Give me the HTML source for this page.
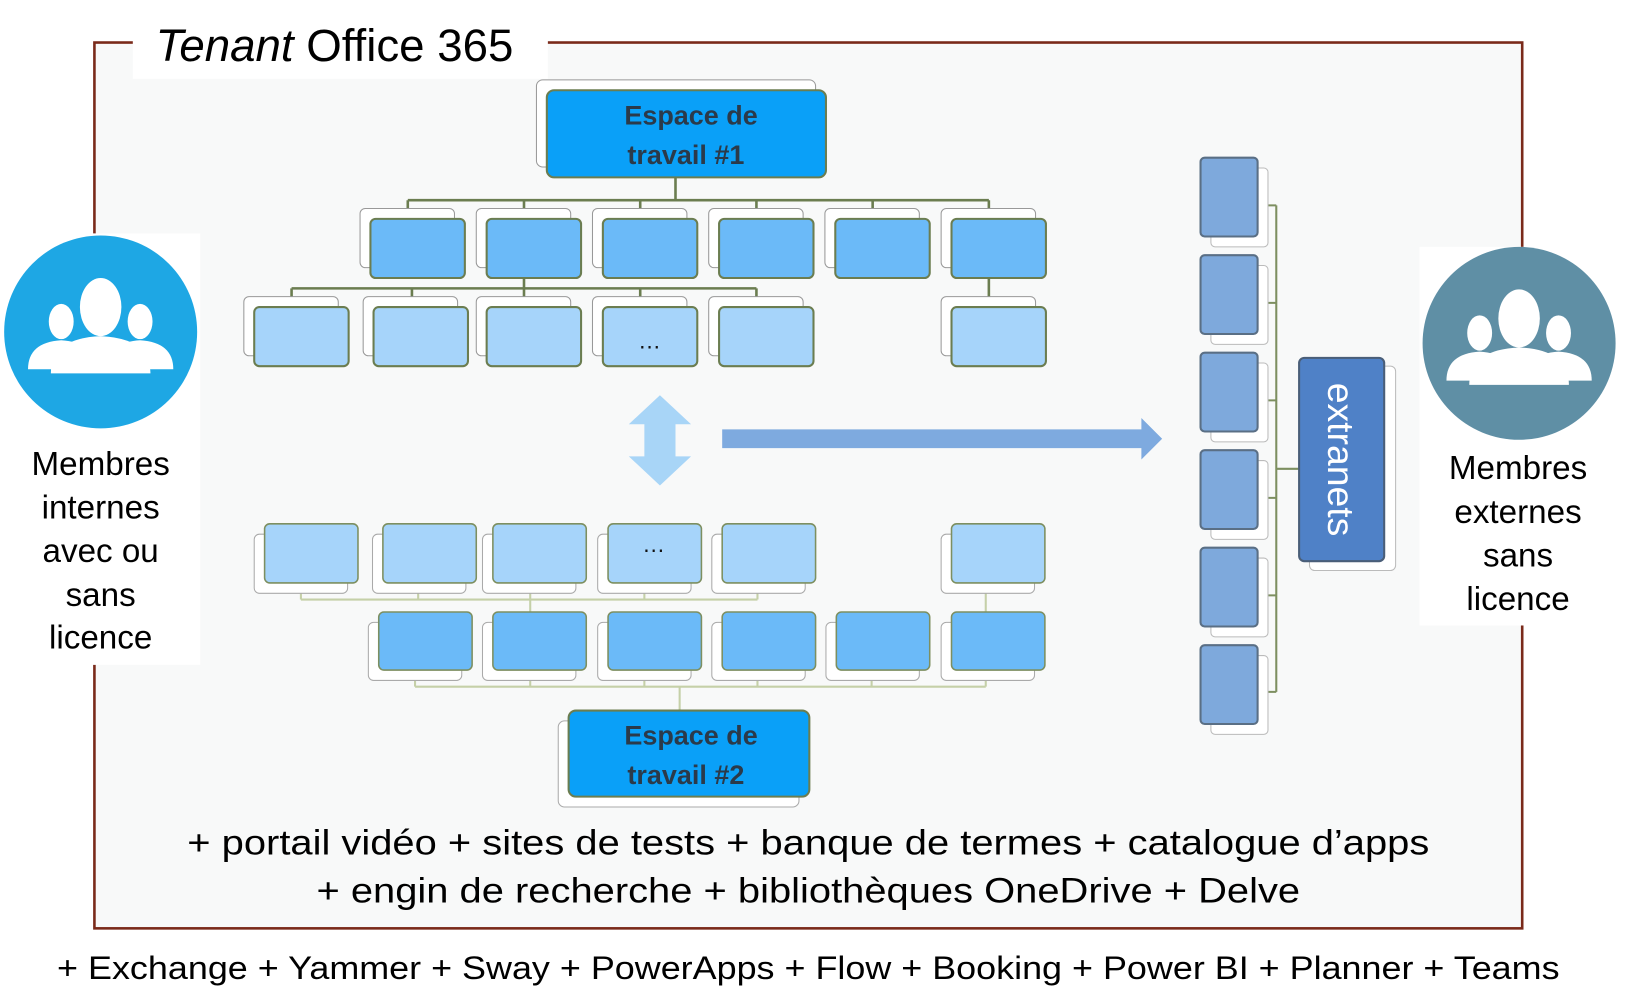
<!DOCTYPE html>
<html><head><meta charset="utf-8"><style>html,body{margin:0;padding:0;background:#fff;width:1627px;height:1002px;overflow:hidden}svg{display:block}text{font-family:"Liberation Sans",Arial,sans-serif}</style></head><body>
<svg width="1627" height="1002" viewBox="0 0 1568 966" preserveAspectRatio="none" xmlns="http://www.w3.org/2000/svg">
<defs>
<g id="ppl" fill="#fff">
<ellipse cx="-38" cy="-8" rx="12" ry="17"/><path d="M-70 38 Q-70 12 -38 10 Q-6 12 -6 38Z"/>
<ellipse cx="38" cy="-8" rx="12" ry="17"/><path d="M6 38 Q6 12 38 10 Q70 12 70 38Z"/>
<ellipse cx="0" cy="-22" rx="20" ry="28" stroke="#1ea7e4" stroke-width="0"/><path d="M-48 42 Q-48 8 0 6 Q48 8 48 42Z"/>
</g>
</defs>
<rect x="91" y="41" width="1376" height="854" fill="#f8f9f9" stroke="#7a2a1a" stroke-width="2.5"/>
<rect x="128" y="14" width="400" height="62" fill="#fff"/>
<text x="150" y="59" font-size="44"><tspan font-style="italic">Tenant</tspan> Office 365</text>
<rect x="0" y="225" width="193" height="416" fill="#fff"/>
<circle cx="97" cy="320" r="93" fill="#1ea7e4"/>
<use href="#ppl" transform="translate(97,318)"/>
<g font-size="32" text-anchor="middle"><text x="97" y="458">Membres</text><text x="97" y="500">internes</text><text x="97" y="542">avec ou</text><text x="97" y="584">sans</text><text x="97" y="625">licence</text></g>
<rect x="1368" y="238" width="192" height="365" fill="#fff"/>
<circle cx="1464" cy="331" r="93" fill="#5f8fa5"/>
<use href="#ppl" transform="translate(1464,329)"/>
<g font-size="32" text-anchor="middle"><text x="1463" y="462">Membres</text><text x="1463" y="504">externes</text><text x="1463" y="546">sans</text><text x="1463" y="588">licence</text></g>
<!-- top tree -->
<g fill="none" stroke="#6b7d50" stroke-width="2.5">
<path d="M651 171V193M393 193H953M393 193V211M505 193V211M617 193V211M729 193V211M841 193V211M953 193V211"/>
<path d="M505 268V278M281 278H729M281 278V296M397 278V296M505 278V296M617 278V296M729 278V296M953 268V296"/>
</g>
<g stroke="#999" stroke-width="1" fill="#fff">
<rect x="517" y="77" width="269" height="84" rx="6"/>
<rect x="347" y="201" width="91" height="57" rx="5"/><rect x="459" y="201" width="91" height="57" rx="5"/><rect x="571" y="201" width="91" height="57" rx="5"/><rect x="683" y="201" width="91" height="57" rx="5"/><rect x="795" y="201" width="91" height="57" rx="5"/><rect x="907" y="201" width="91" height="57" rx="5"/>
<rect x="235" y="286" width="91" height="57" rx="5"/><rect x="350" y="286" width="91" height="57" rx="5"/><rect x="459" y="286" width="91" height="57" rx="5"/><rect x="571" y="286" width="91" height="57" rx="5"/><rect x="683" y="286" width="91" height="57" rx="5"/><rect x="907" y="286" width="91" height="57" rx="5"/>
</g>
<rect x="527" y="87" width="269" height="84" rx="7" fill="#0aa0f8" stroke="#6b7d50" stroke-width="2"/>
<g font-size="26" fill="#2b3a4a" text-anchor="middle" font-weight="bold"><text x="666" y="120">Espace de</text><text x="661" y="158">travail #1</text></g>
<g fill="#6bbaf8" stroke="#6b7d50" stroke-width="2">
<rect x="357" y="211" width="91" height="57" rx="5"/><rect x="469" y="211" width="91" height="57" rx="5"/><rect x="581" y="211" width="91" height="57" rx="5"/><rect x="693" y="211" width="91" height="57" rx="5"/><rect x="805" y="211" width="91" height="57" rx="5"/><rect x="917" y="211" width="91" height="57" rx="5"/>
</g>
<g fill="#a6d4fa" stroke="#6b7d50" stroke-width="2">
<rect x="245" y="296" width="91" height="57" rx="5"/><rect x="360" y="296" width="91" height="57" rx="5"/><rect x="469" y="296" width="91" height="57" rx="5"/><rect x="581" y="296" width="91" height="57" rx="5"/><rect x="693" y="296" width="91" height="57" rx="5"/><rect x="917" y="296" width="91" height="57" rx="5"/>
</g>
<text x="626" y="336" font-size="22" text-anchor="middle" fill="#111">…</text>
<!-- arrows -->
<path d="M636 381L666 409H651V440H666L636 468L606 440H621V409H606Z" fill="#a8d5f7"/>
<path d="M696 414H1100V403L1120 423L1100 443V432H696Z" fill="#7eaadf"/>
<!-- bottom tree -->
<g fill="none" stroke="#c5d0a8" stroke-width="2">
<path d="M290 578H730M290 572V578M403 572V578M511 572V590M621 572V578M730 572V578M950 562V590"/>
<path d="M400 662H950M400 656V662M511 656V662M621 656V662M730 656V662M840 656V662M950 656V662M655 662V685"/>
</g>
<g stroke="#aaa" stroke-width="1" fill="#fff">
<rect x="245" y="515" width="90" height="57" rx="5"/><rect x="359" y="515" width="90" height="57" rx="5"/><rect x="465" y="515" width="90" height="57" rx="5"/><rect x="576" y="515" width="90" height="57" rx="5"/><rect x="686" y="515" width="90" height="57" rx="5"/><rect x="907" y="515" width="90" height="57" rx="5"/>
<rect x="355" y="600" width="90" height="56" rx="5"/><rect x="465" y="600" width="90" height="56" rx="5"/><rect x="576" y="600" width="90" height="56" rx="5"/><rect x="686" y="600" width="90" height="56" rx="5"/><rect x="796" y="600" width="90" height="56" rx="5"/><rect x="907" y="600" width="90" height="56" rx="5"/>
<rect x="538" y="695" width="232" height="83" rx="6"/>
</g>
<g fill="#a6d4fa" stroke="#7d8f60" stroke-width="1.5">
<rect x="255" y="505" width="90" height="57" rx="5"/><rect x="369" y="505" width="90" height="57" rx="5"/><rect x="475" y="505" width="90" height="57" rx="5"/><rect x="586" y="505" width="90" height="57" rx="5"/><rect x="696" y="505" width="90" height="57" rx="5"/><rect x="917" y="505" width="90" height="57" rx="5"/>
</g>
<g fill="#6bbaf8" stroke="#7d8f60" stroke-width="1.5">
<rect x="365" y="590" width="90" height="56" rx="5"/><rect x="475" y="590" width="90" height="56" rx="5"/><rect x="586" y="590" width="90" height="56" rx="5"/><rect x="696" y="590" width="90" height="56" rx="5"/><rect x="806" y="590" width="90" height="56" rx="5"/><rect x="917" y="590" width="90" height="56" rx="5"/>
</g>
<text x="630" y="532" font-size="22" text-anchor="middle" fill="#111">…</text>
<rect x="548" y="685" width="232" height="83" rx="7" fill="#0aa0f8" stroke="#6b7d50" stroke-width="2"/>
<g font-size="26" fill="#2b3a4a" text-anchor="middle" font-weight="bold"><text x="666" y="718">Espace de</text><text x="661" y="756">travail #2</text></g>
<!-- extranets -->
<g fill="none" stroke="#7d8f60" stroke-width="2">
<path d="M1230 198V667M1220 198H1230M1220 292H1230M1220 386H1230M1220 480H1230M1220 574H1230M1220 667H1230M1230 452H1252"/>
</g>
<g fill="#fff" stroke="#bbb" stroke-width="1">
<rect x="1167" y="162" width="55" height="76" rx="4"/><rect x="1167" y="256" width="55" height="76" rx="4"/><rect x="1167" y="350" width="55" height="76" rx="4"/><rect x="1167" y="444" width="55" height="76" rx="4"/><rect x="1167" y="538" width="55" height="76" rx="4"/><rect x="1167" y="632" width="55" height="76" rx="4"/>
<rect x="1262" y="353" width="83" height="197" rx="5"/>
</g>
<g fill="#7ea9dc" stroke="#5a6f85" stroke-width="2">
<rect x="1157" y="152" width="55" height="76" rx="4"/><rect x="1157" y="246" width="55" height="76" rx="4"/><rect x="1157" y="340" width="55" height="76" rx="4"/><rect x="1157" y="434" width="55" height="76" rx="4"/><rect x="1157" y="528" width="55" height="76" rx="4"/><rect x="1157" y="622" width="55" height="76" rx="4"/>
</g>
<rect x="1252" y="345" width="82" height="196" rx="5" fill="#4f81c7" stroke="#4a5e78" stroke-width="2"/>
<text transform="translate(1280,443) rotate(90)" font-size="36" fill="#fff" text-anchor="middle">extranets</text>
<!-- bottom text -->
<g font-size="34" text-anchor="middle" fill="#000">
<text x="779" y="824" textLength="1197" lengthAdjust="spacingAndGlyphs">+ portail vidéo + sites de tests + banque de termes + catalogue d’apps</text>
<text x="779" y="870" textLength="948" lengthAdjust="spacingAndGlyphs">+ engin de recherche + bibliothèques OneDrive + Delve</text>
</g>
<text x="779" y="944" font-size="31" text-anchor="middle" textLength="1448" lengthAdjust="spacingAndGlyphs">+ Exchange + Yammer + Sway + PowerApps + Flow + Booking + Power BI + Planner + Teams</text>
</svg>
</body></html>
